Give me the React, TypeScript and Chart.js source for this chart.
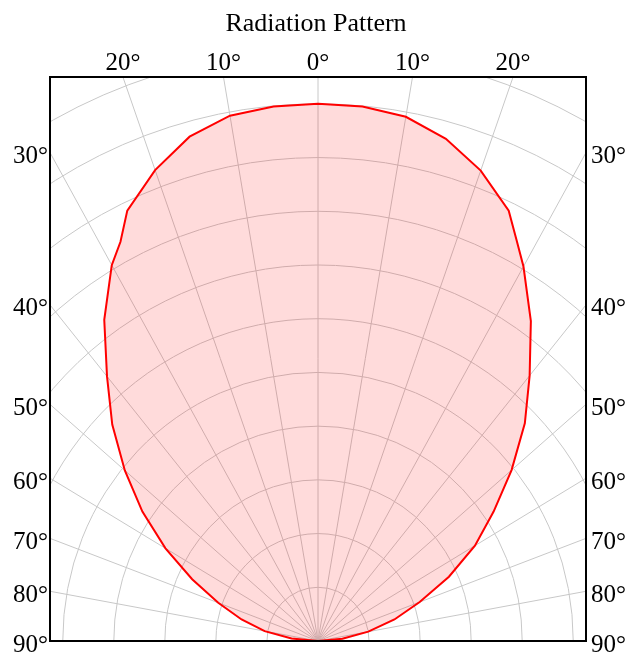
import React, { useEffect, useRef } from "react";
import { Chart, registerables } from "chart.js";

Chart.register(...registerables);

// Measured emission angles (degrees from the optical axis, negative = left side)
const ANGLES_DEG = [
  -90, -85, -80, -75, -70, -65, -60, -55, -50, -45, -40, -35, -30, -27.5, -25, -20, -15, -10, -5,
  0, 5, 10, 15, 20, 25, 27.5, 30, 35, 40, 45, 50, 55, 60, 65, 70, 75, 80, 85, 90,
];
// Relative intensity at each angle (1.0 = on-axis peak)
const RELATIVE_INTENSITY = [
  0, 0.052, 0.106, 0.155, 0.208, 0.272, 0.345, 0.42, 0.494, 0.57, 0.643, 0.73, 0.808, 0.838, 0.884, 0.933, 0.972, 0.993, 0.999,
  1.0, 0.999, 0.991, 0.968, 0.932, 0.884, 0.842, 0.805, 0.727, 0.645, 0.573, 0.495, 0.42, 0.355, 0.283, 0.212, 0.155, 0.1, 0.048, 0,
];

const TOP_LABEL_ANGLES = [-20, -10, 0, 10, 20];
const SIDE_LABEL_ANGLES = [30, 40, 50, 60, 70, 80, 90];
const RING_VALUES = [0.1, 0.2, 0.3, 0.4, 0.5, 0.6, 0.7, 0.8, 0.9, 1.0, 1.1, 1.2, 1.3, 1.4, 1.5];
const SPOKE_ANGLES = [-90, -80, -70, -60, -50, -40, -30, -20, -10, 0, 10, 20, 30, 40, 50, 60, 70, 80, 90];

const X_MAX = 0.525;
const Y_MAX = 1.05;
const TITLE = "Radiation Pattern";
const FONT = "'Liberation Serif', 'Times New Roman', serif";

const rad = (d: number) => (d * Math.PI) / 180;

const polarFrame = {
  id: "polarFrame",
  beforeDatasetsDraw(chart: any) {
    const { ctx, chartArea: a, scales } = chart;
    const x = scales.x;
    const y = scales.y;
    const cx = x.getPixelForValue(0);
    const cy = y.getPixelForValue(0);
    ctx.save();
    ctx.beginPath();
    ctx.rect(a.left, a.top, a.right - a.left, a.bottom - a.top);
    ctx.clip();
    ctx.strokeStyle = "#c8c8c8";
    ctx.lineWidth = 1;
    for (const r of RING_VALUES) {
      const rx = x.getPixelForValue(r) - cx;
      const ry = cy - y.getPixelForValue(r);
      ctx.beginPath();
      ctx.ellipse(cx, cy, rx, ry, 0, Math.PI, 2 * Math.PI);
      ctx.stroke();
    }
    for (const d of SPOKE_ANGLES) {
      const len = 3;
      ctx.beginPath();
      ctx.moveTo(cx, cy);
      ctx.lineTo(x.getPixelForValue(len * Math.sin(rad(d))), y.getPixelForValue(len * Math.cos(rad(d))));
      ctx.stroke();
    }
    ctx.restore();
  },
  afterDraw(chart: any) {
    const { ctx, chartArea: a, scales } = chart;
    const x = scales.x;
    const y = scales.y;
    ctx.save();
    // plot frame
    ctx.strokeStyle = "#000";
    ctx.lineWidth = 2;
    ctx.strokeRect(a.left, a.top, a.right - a.left, a.bottom - a.top);

    ctx.fillStyle = "#000";
    // title
    ctx.font = `26px ${FONT}`;
    ctx.textAlign = "center";
    ctx.textBaseline = "alphabetic";
    ctx.fillText(TITLE, 316, 31);

    // angle labels where the spokes leave the top edge
    ctx.font = `25px ${FONT}`;
    for (const d of TOP_LABEL_ANGLES) {
      const px = x.getPixelForValue((Y_MAX * Math.sin(rad(d))) / Math.cos(rad(d)));
      ctx.textAlign = "center";
      ctx.fillText(`${Math.abs(d)}°`, px, a.top - 7);
    }
    // angle labels where the spokes leave the side edges
    for (const d of SIDE_LABEL_ANGLES) {
      const py = y.getPixelForValue((X_MAX * Math.cos(rad(d))) / Math.sin(rad(d)));
      ctx.textAlign = "right";
      ctx.fillText(`${d}°`, a.left - 2, py + 10.5);
      ctx.textAlign = "left";
      ctx.fillText(`${d}°`, a.right + 5, py + 10.5);
    }
    ctx.restore();
  },
};

export default function App() {
  const canvasRef = useRef<HTMLCanvasElement | null>(null);

  useEffect(() => {
    const canvas = canvasRef.current;
    if (!canvas) return;
    const points = ANGLES_DEG.map((d, i) => ({
      x: RELATIVE_INTENSITY[i] * Math.sin(rad(d)),
      y: RELATIVE_INTENSITY[i] * Math.cos(rad(d)),
    }));
    const chart = new Chart(canvas, {
      type: "scatter",
      data: {
        datasets: [
          {
            label: "Intensity",
            data: points,
            showLine: true,
            fill: "shape",
            borderColor: "#ff0000",
            backgroundColor: "rgba(255, 0, 0, 0.14)",
            borderWidth: 2,
            pointRadius: 0,
            tension: 0,
          },
        ],
      },
      options: {
        animation: false,
        responsive: false,
        devicePixelRatio: 1,
        layout: { padding: { left: 50, right: 42, top: 77, bottom: 15 } },
        plugins: { legend: { display: false }, title: { display: false }, tooltip: { enabled: false } },
        scales: {
          x: { type: "linear", min: -X_MAX, max: X_MAX, display: false },
          y: { type: "linear", min: 0, max: Y_MAX, display: false },
        },
      },
      plugins: [polarFrame],
    } as any);
    return () => chart.destroy();
  }, []);

  return (
    <div style={{ position: "fixed", left: 0, top: 0, width: 628, height: 656, background: "#fff" }}>
      <canvas ref={canvasRef} width={628} height={656} style={{ display: "block" }} />
    </div>
  );
}
